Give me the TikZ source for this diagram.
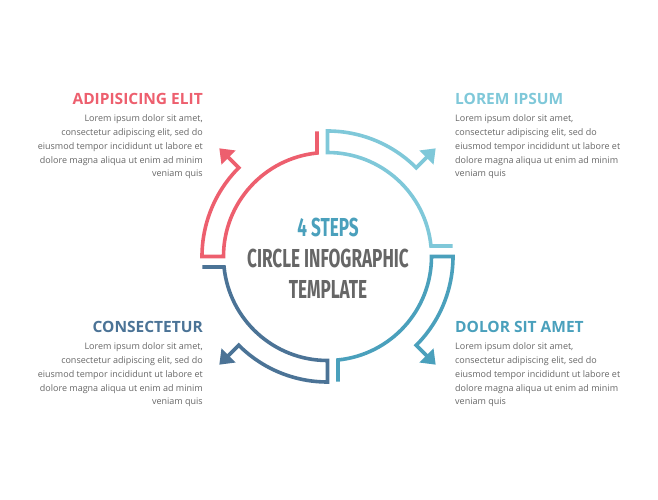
\documentclass[tikz,border=0pt]{standalone}
\usepackage{fontspec}
\setmainfont{Open Sans}
\newfontfamily\stepsfont{Fira Sans}[FakeStretch=0.66]
\usetikzlibrary{positioning,arrows.meta}

\definecolor{rosered}{HTML}{ED5F6E}
\definecolor{skyblue}{HTML}{7FC8D9}
\definecolor{seablue}{HTML}{4AA0BC}
\definecolor{steelblue}{HTML}{4B7396}
\definecolor{textgrey}{HTML}{666666}

\begin{document}
\begin{tikzpicture}[x=1pt,y=1pt,
		piece/.style={line width=3.6pt,-{Triangle[length=13pt,width=19pt]}},
		head/.style={font=\fontsize{15.5}{18}\selectfont\bfseries,inner sep=0pt},
		body/.style={font=\fontsize{9}{13.7}\selectfont,text=textgrey,inner sep=0pt},
		centre/.style={font=\stepsfont\bfseries\fontsize{26}{30}\selectfont,inner sep=0pt}]
	\useasboundingbox (-327.5,-243.5) rectangle (330.5,256.5);

	\foreach \r/\c in {0/skyblue,-90/seablue,180/steelblue,90/rosered}
		\draw[piece,\c,rotate=\r] ({sqrt(125.5^2-10.5^2)},10.5) -- ({sqrt(104^2-10.5^2)},10.5)
			arc[start angle={asin(10.5/104)},end angle=90,radius=104]
			-- (0,125.5) arc[start angle=90,end angle=45,radius=125.5] -- (45:153);

	\node[centre,text=seablue]  (steps) at (0.5,29.5) {4 STEPS};
	\node[centre,text=textgrey] (circ)  at (0.5,-1.5) {CIRCLE INFOGRAPHIC};
	\node[centre,text=textgrey] (tmpl)  at (0.5,-32.5) {TEMPLATE};

	\node[head,text=rosered,anchor=east]   (adip)  at (-124.5,157.5) {ADIPISICING ELIT};
	\node[head,text=skyblue,anchor=west]   (lorem) at (127.5,157.5) {LOREM IPSUM};
	\node[head,text=steelblue,anchor=east] (cons)  at (-124.5,-70.5) {CONSECTETUR};
	\node[head,text=seablue,anchor=west]   (dolor) at (127.5,-70.5) {DOLOR SIT AMET};

	\node[body,align=right,below=10pt of adip.south east,anchor=north east] (adiptext)
		{Lorem ipsum dolor sit amet,\\consectetur adipiscing elit, sed do\\eiusmod tempor incididunt ut labore et\\dolore magna aliqua ut enim ad minim\\veniam quis};
	\node[body,align=left,below=10pt of lorem.south west,anchor=north west] (loremtext)
		{Lorem ipsum dolor sit amet,\\consectetur adipiscing elit, sed do\\eiusmod tempor incididunt ut labore et\\dolore magna aliqua ut enim ad minim\\veniam quis};
	\node[body,align=right,below=10pt of cons.south east,anchor=north east] (constext)
		{Lorem ipsum dolor sit amet,\\consectetur adipiscing elit, sed do\\eiusmod tempor incididunt ut labore et\\dolore magna aliqua ut enim ad minim\\veniam quis};
	\node[body,align=left,below=10pt of dolor.south west,anchor=north west] (dolortext)
		{Lorem ipsum dolor sit amet,\\consectetur adipiscing elit, sed do\\eiusmod tempor incididunt ut labore et\\dolore magna aliqua ut enim ad minim\\veniam quis};
\end{tikzpicture}
\end{document}
